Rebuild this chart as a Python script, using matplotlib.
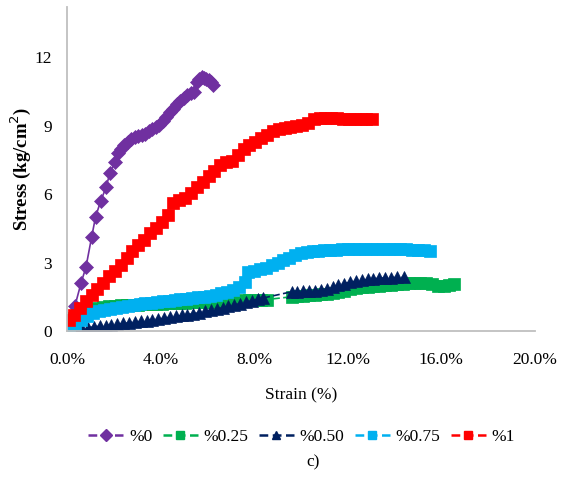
import matplotlib
matplotlib.use("Agg")
import matplotlib.pyplot as plt
from matplotlib.lines import Line2D

plt.rcParams['font.family'] = ['Liberation Serif', 'DejaVu Serif']

# ---- data (strain in %, stress in kg/cm^2) ----
labels = ["%0", "%0.25", "%0.50", "%0.75", "%1"]
colors = ["#7030A0", "#00B050", "#002060", "#00B0F0", "#FF0000"]

strain_0 = [0.15, 0.34, 0.6, 0.81, 1.05, 1.22, 1.44, 1.67, 1.84, 2.05, 2.2, 2.3, 2.45, 2.6, 2.75,
            2.9, 3.05, 3.2, 3.35, 3.5, 3.65, 3.8, 3.95, 4.1, 4.25, 4.4, 4.55, 4.7, 4.85, 5.0,
            5.15, 5.3, 5.42, 5.55, 5.65, 5.75, 5.85, 5.95, 6.05, 6.15, 6.25]
stress_0 = [0.5, 1.1, 2.1, 2.8, 4.1, 5.0, 5.7, 6.3, 6.95, 7.4, 7.8, 8.0, 8.15, 8.3, 8.4,
            8.5, 8.55, 8.6, 8.65, 8.75, 8.85, 8.95, 9.05, 9.2, 9.4, 9.6, 9.75, 9.95, 10.1, 10.2,
            10.35, 10.45, 10.5, 10.9, 11.05, 11.15, 11.1, 11.05, 11.0, 10.9, 10.8]

strain_025 = [0.1, 0.3, 0.55, 0.8, 1.05, 1.3, 1.55, 1.8, 2.05, 2.3, 2.55, 2.8, 3.05, 3.3, 3.55,
              3.8, 4.05, 4.3, 4.55, 4.8, 5.05, 5.3, 5.55, 5.8, 6.05, 6.3, 6.55, 6.8, 7.05, 7.3,
              7.55, 7.8, 8.05, 8.3, 8.55,
              9.6, 9.85, 10.1, 10.35, 10.6, 10.85, 11.1, 11.35, 11.6, 11.85, 12.1, 12.35, 12.6,
              12.85, 13.1, 13.35, 13.6, 13.85, 14.1, 14.35, 14.6, 14.85, 15.1, 15.35, 15.6,
              15.85, 16.1, 16.35, 16.55]
stress_025 = [0.3, 0.55, 0.8, 0.92, 0.98, 1.02, 1.05, 1.08, 1.1, 1.12, 1.14, 1.15, 1.16, 1.17, 1.18,
              1.19, 1.2, 1.21, 1.22, 1.23, 1.24, 1.25, 1.26, 1.27, 1.28, 1.29, 1.3, 1.31, 1.32, 1.33,
              1.34, 1.35, 1.36, 1.37, 1.38,
              1.5, 1.52, 1.55, 1.58, 1.6, 1.62, 1.64, 1.66, 1.7, 1.76, 1.82, 1.88, 1.92,
              1.95, 1.97, 1.98, 2.0, 2.02, 2.05, 2.08, 2.1, 2.1, 2.1, 2.1, 2.05,
              1.98, 1.98, 2.0, 2.05]

strain_050 = [0.4, 0.65, 0.9, 1.15, 1.4, 1.65, 1.9, 2.15, 2.4, 2.65, 2.9, 3.15, 3.4, 3.65, 3.9,
              4.15, 4.4, 4.65, 4.9, 5.15, 5.4, 5.65, 5.9, 6.15, 6.4, 6.65, 6.9, 7.15, 7.4, 7.65,
              7.9, 8.15, 8.4,
              9.6, 9.85, 10.1, 10.35, 10.6, 10.85, 11.1, 11.35, 11.6, 11.85, 12.1, 12.35, 12.6,
              12.85, 13.1, 13.35, 13.6, 13.85, 14.1, 14.4]
stress_050 = [0.05, 0.1, 0.15, 0.18, 0.21, 0.24, 0.27, 0.3, 0.33, 0.36, 0.39, 0.42, 0.45, 0.49, 0.52,
              0.56, 0.6, 0.64, 0.68, 0.72, 0.76, 0.8, 0.86, 0.92, 0.97, 1.02, 1.08, 1.14, 1.2, 1.27,
              1.33, 1.39, 1.45,
              1.72, 1.73, 1.74, 1.75, 1.76, 1.78, 1.84, 1.92, 2.0, 2.08, 2.14, 2.18, 2.22,
              2.26, 2.29, 2.31, 2.33, 2.34, 2.35, 2.35]

strain_075 = [0.1, 0.35, 0.6, 0.85, 1.1, 1.35, 1.6, 1.85, 2.1, 2.35, 2.6, 2.85, 3.1, 3.35, 3.6,
              3.85, 4.1, 4.35, 4.6, 4.85, 5.1, 5.35, 5.6, 5.85, 6.1, 6.35, 6.6, 6.85, 7.1, 7.35,
              7.6, 7.75, 8.0, 8.25, 8.5, 8.75, 9.0, 9.25, 9.5, 9.75, 10.0, 10.25, 10.5, 10.75,
              11.0, 11.25, 11.5, 11.75, 12.0, 12.25, 12.5, 12.75, 13.0, 13.25, 13.5, 13.75,
              14.0, 14.25, 14.5, 14.75, 15.0, 15.25, 15.5]
stress_075 = [0.15, 0.3, 0.5, 0.65, 0.8, 0.88, 0.93, 0.98, 1.02, 1.06, 1.1, 1.14, 1.18, 1.21, 1.24,
              1.27, 1.3, 1.33, 1.36, 1.39, 1.42, 1.45, 1.48, 1.51, 1.55, 1.6, 1.66, 1.72, 1.8, 1.95,
              2.15, 2.6, 2.65, 2.7, 2.75, 2.9, 3.0, 3.1, 3.2, 3.35, 3.4, 3.45, 3.5, 3.52,
              3.55, 3.56, 3.57, 3.58, 3.58, 3.58, 3.58, 3.58, 3.58, 3.58, 3.58, 3.58,
              3.58, 3.58, 3.58, 3.57, 3.56, 3.55, 3.5]

strain_1 = [0.1, 0.3, 0.55, 0.8, 1.05, 1.3, 1.55, 1.8, 2.05, 2.3, 2.55, 2.8, 3.05, 3.3, 3.55,
            3.8, 4.05, 4.3, 4.55, 4.8, 5.05, 5.3, 5.55, 5.8, 6.05, 6.3, 6.55, 6.8, 7.05, 7.3,
            7.55, 7.8, 8.05, 8.3, 8.55, 8.8, 9.05, 9.3, 9.55, 9.8, 10.05, 10.3, 10.55, 10.8,
            11.05, 11.3, 11.55, 11.8, 12.05, 12.3, 12.55, 12.8, 13.05]
stress_1 = [0.5, 0.7, 1.0, 1.3, 1.6, 1.85, 2.1, 2.4, 2.65, 2.9, 3.2, 3.5, 3.75, 4.0, 4.3,
            4.5, 4.8, 5.1, 5.6, 5.75, 5.85, 6.05, 6.3, 6.55, 6.8, 7.0, 7.3, 7.4, 7.45, 7.7,
            8.0, 8.15, 8.3, 8.45, 8.6, 8.75, 8.85, 8.9, 8.95, 9.0, 9.05, 9.1, 9.3, 9.35,
            9.35, 9.35, 9.35, 9.3, 9.3, 9.3, 9.3, 9.3, 9.3]

x_ticks = [0, 4, 8, 12, 16, 20]
x_ticklabels = ["0.0%", "4.0%", "8.0%", "12.0%", "16.0%", "20.0%"]
y_ticks = [0, 3, 6, 9, 12]

series = [
    (strain_0, stress_0, 'D', 7.0, '-'),
    (strain_025, stress_025, 's', 8.0, (0, (4, 2))),
    (strain_050, stress_050, '^', 8.5, (0, (4, 2))),
    (strain_075, stress_075, 's', 8.5, (0, (4, 2))),
    (strain_1, stress_1, 's', 8.5, (0, (4, 2))),
]

fig = plt.figure(figsize=(5.63, 4.79), dpi=100)
ax = fig.add_axes([0.119, 0.309, 0.831, 0.676])

for (x, y, m, ms, ls), c in zip(series, colors):
    ax.plot(x, y, linestyle=ls, color=c, lw=1.2, marker=m, markersize=ms,
            markerfacecolor=c, markeredgecolor=c, markeredgewidth=0.5)

ax.set_xlim(0, 20)
ax.set_ylim(0, 14.2)
ax.set_xticks(x_ticks)
ax.set_xticklabels(x_ticklabels)
ax.set_yticks(y_ticks)
for s in ['top', 'right']:
    ax.spines[s].set_visible(False)
for s in ['left', 'bottom']:
    ax.spines[s].set_color('#BFBFBF')
    ax.spines[s].set_linewidth(1.3)
ax.tick_params(axis='both', length=0, labelsize=12.5, colors='black')
ax.tick_params(axis='x', pad=15)
ax.tick_params(axis='y', pad=11)

ax.set_xlabel("Strain (%)", fontsize=12.5, labelpad=14)
ax.set_ylabel("Stress (kg/cm$^2$)", fontsize=13.5, fontweight='bold')
ax.yaxis.set_label_coords(-0.073, 0.5)

handles = []
for (x, y, m, ms, ls), c in zip(series, colors):
    handles.append(Line2D([], [], color=c, lw=1.8, linestyle=(0, (3.5, 1.8)), marker=m,
                          markersize=6, markerfacecolor=c, markeredgecolor=c))
fig.legend(handles, labels, loc='center', bbox_to_anchor=(0.536, 0.088), ncol=5,
           frameon=False, fontsize=12.5, handlelength=2.0, handletextpad=0.35,
           columnspacing=0.6)

fig.text(0.556, 0.035, "c)", ha='center', va='center', fontsize=12.5)

fig.savefig("out.png", dpi=100)
